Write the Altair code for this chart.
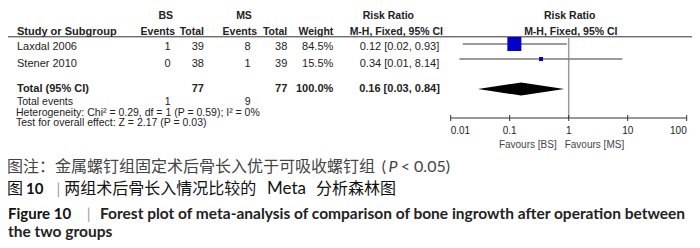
import altair as alt
import pandas as pd

# ---------------- data ----------------
studies = ["Laxdal 2006", "Stener 2010"]
bs_events = [1, 0]
bs_total = [39, 38]
ms_events = [8, 1]
ms_total = [38, 39]
weights = [84.5, 15.5]
rr_est = [0.12, 0.34]
rr_lo = [0.016, 0.014]
rr_hi = [0.93, 8.14]
rr_text = ["0.12 [0.02, 0.93]", "0.34 [0.01, 8.14]"]

total_bs, total_ms = 77, 77
total_events_bs, total_events_ms = 1, 9
total_weight = "100.0%"
pooled_est, pooled_lo, pooled_hi = 0.156, 0.029, 0.84
pooled_text = "0.16 [0.03, 0.84]"

heterogeneity = "Heterogeneity: Chi\u00b2 = 0.29, df = 1 (P = 0.59); I\u00b2 = 0%"
overall = "Test for overall effect: Z = 2.17 (P = 0.03)"

axis_ticks = [0.01, 0.1, 1, 10, 100]
axis_labels = ["0.01", "0.1", "1", "10", "100"]
favours = ["Favours [BS]", "Favours [MS]"]

cap1 = "图注：金属螺钉组固定术后骨长入优于可吸收螺钉组"
cap1_p = ["(", "P", "< 0.05)"]
cap2 = ["图", "10", "|", "两组术后骨长入情况比较的", "Meta", "分析森林图"]
cap3 = ["Figure 10", "|", "Forest plot of meta-analysis of comparison of bone ingrowth after operation between"]
cap4 = "the two groups"

# ---------------- style ----------------
W, H = 684, 232
TF = "Liberation Sans"
CJK = "Noto Sans CJK SC"
EN = "Lato"
TXT = "#222222"
FS = 11

XS = alt.Scale(type="log", domain=[0.01, 100], range=[442.7, 678.7], nice=False)
YF = alt.Scale(domain=[0, 1], range=[36, 51])      # forest rows
YT = alt.Scale(domain=[0, 1], range=[42, 58.5])    # text rows
DIAMOND_HALF = 6.5 / 15.0

df = pd.DataFrame({
    "study": studies, "bs_e": bs_events, "bs_n": bs_total,
    "ms_e": ms_events, "ms_n": ms_total, "w": weights,
    "w_lab": [f"{w:.1f}%" for w in weights],
    "est": rr_est, "lo": rr_lo, "hi": rr_hi, "rr_lab": rr_text,
    "row": [0, 1],
})

layers = []


def label(text, x, y, size=FS, weight="normal", align="left", font=TF,
          color=TXT, style="normal"):
    return alt.Chart(pd.DataFrame({"t": [text]})).mark_text(
        align=align, baseline="alphabetic", font=font, fontSize=size,
        fontWeight=weight, fontStyle=style, color=color,
    ).encode(x=alt.value(x), y=alt.value(y), text="t:N")


# headers
HS = 10.5
layers += [
    label("BS", 157.8, 11, size=HS, weight="bold", align="center"),
    label("MS", 236, 11, size=HS, weight="bold", align="center"),
    label("Risk Ratio", 380.3, 11, size=HS, weight="bold", align="center"),
    label("Risk Ratio", 561.7, 11, size=HS, weight="bold", align="center"),
    label("Study or Subgroup", 9, 27, size=FS, weight="bold"),
    label("Events", 167, 27, size=HS, weight="bold", align="right"),
    label("Total", 196, 27, size=HS, weight="bold", align="right"),
    label("Events", 249, 27, size=HS, weight="bold", align="right"),
    label("Total", 279.3, 27, size=HS, weight="bold", align="right"),
    label("Weight", 325.3, 27, size=HS, weight="bold", align="right"),
    label("M-H, Fixed, 95% CI", 388.3, 27, size=HS, weight="bold", align="center"),
    label("M-H, Fixed, 95% CI", 562.8, 27, size=HS, weight="bold", align="center"),
]

# header underline
layers.append(
    alt.Chart(pd.DataFrame({"a": [0]})).mark_rule(color="#333333", strokeWidth=1).encode(
        x=alt.value(0), x2=alt.value(W), y=alt.value(28.8))
)

# study rows text
base = alt.Chart(df)
yt = alt.Y("row:Q", scale=YT, axis=None)


def col(field, x, align="right"):
    return base.mark_text(align=align, baseline="alphabetic", font=TF, fontSize=FS,
                          color=TXT).encode(x=alt.value(x), y=yt, text=f"{field}:N")


layers += [
    col("study", 9, "left"), col("bs_e", 162.5), col("bs_n", 196),
    col("ms_e", 242.7), col("ms_n", 279.3), col("w_lab", 325.3),
    col("rr_lab", 391.5, "center"),
]

# totals and footnotes
FN = 10.5
layers += [
    label("Total (95% CI)", 9, 84, weight="bold"),
    label(str(total_bs), 196, 84, weight="bold", align="right"),
    label(str(total_ms), 279.3, 84, weight="bold", align="right"),
    label(total_weight, 325.3, 84, weight="bold", align="right"),
    label(pooled_text, 391.5, 84, weight="bold", align="center"),
    label("Total events", 9, 97, size=FN),
    label(str(total_events_bs), 162.5, 97, size=FN, align="right"),
    label(str(total_events_ms), 242.7, 97, size=FN, align="right"),
    label(heterogeneity, 8, 107.5, size=FN),
    label(overall, 8, 118, size=FN),
]

# forest plot: vertical line of no effect
layers.append(
    alt.Chart(pd.DataFrame({"v": [1]})).mark_rule(color="#9a9a9a", strokeWidth=1.5).encode(
        x=alt.X("v:Q", scale=XS, axis=None), y=alt.value(30), y2=alt.value(110))
)

yf = alt.Y("row:Q", scale=YF, axis=None)
layers.append(
    base.mark_rule(color="#7a7a7a", strokeWidth=1.5).encode(
        x=alt.X("lo:Q", scale=XS, axis=None), x2="hi:Q", y=yf)
)
layers.append(
    base.mark_square(color="#0000c8", opacity=1, strokeWidth=0).encode(
        x=alt.X("est:Q", scale=XS, axis=None), y=yf,
        size=alt.Size("w:Q", scale=alt.Scale(domain=[15.5, 84.5], range=[16, 196]), legend=None))
)

# pooled diamond
dia = pd.DataFrame({
    "x": [pooled_lo, pooled_est, pooled_hi],
    "y": [3, 3 - DIAMOND_HALF, 3],
    "y2": [3, 3 + DIAMOND_HALF, 3],
})
layers.append(
    alt.Chart(dia).mark_area(color="black", orient="vertical", opacity=1).encode(
        x=alt.X("x:Q", scale=XS, axis=None),
        y=alt.Y("y:Q", scale=YF, axis=None), y2="y2:Q")
)

# axis
ax = pd.DataFrame({"t": axis_ticks, "lab": axis_labels, "i": range(len(axis_ticks))})
layers.append(
    alt.Chart(pd.DataFrame({"a": [axis_ticks[0]], "b": [axis_ticks[-1]]})).mark_rule(
        color="#333333", strokeWidth=1).encode(
        x=alt.X("a:Q", scale=XS, axis=None), x2="b:Q", y=alt.value(110))
)
layers.append(
    alt.Chart(ax).mark_rule(color="#333333", strokeWidth=1).encode(
        x=alt.X("t:Q", scale=XS, axis=None), y=alt.value(107), y2=alt.value(113))
)
for cond, al in [("datum.i == 0", "left"), (f"datum.i > 0 && datum.i < {len(axis_ticks) - 1}", "center"),
                 (f"datum.i == {len(axis_ticks) - 1}", "right")]:
    layers.append(
        alt.Chart(ax).transform_filter(cond).mark_text(
            align=al, baseline="alphabetic", font=TF, fontSize=10, color=TXT).encode(
            x=alt.X("t:Q", scale=XS, axis=None), y=alt.value(125.5), text="lab:N")
    )
fav = pd.DataFrame({"v": [1], "a": [favours[0]], "b": [favours[1]]})
layers.append(
    alt.Chart(fav).mark_text(align="right", dx=-12, baseline="alphabetic", font=TF,
                             fontSize=10, color="#444444").encode(
        x=alt.X("v:Q", scale=XS, axis=None), y=alt.value(139.5), text="a:N")
)
layers.append(
    alt.Chart(fav).mark_text(align="left", dx=-4, baseline="alphabetic", font=TF,
                             fontSize=10, color="#444444").encode(
        x=alt.X("v:Q", scale=XS, axis=None), y=alt.value(139.5), text="b:N")
)

# captions
C1 = "#444444"
C2 = "#111111"
layers += [
    label(cap1, -1, 163.5, size=16, font=CJK, color=C1),
    label(cap1_p[0], 373.7, 163.5, size=16, font=EN, color=C1),
    label(cap1_p[1], 380.5, 163.5, size=16, font=EN, color=C1, style="italic"),
    label(cap1_p[2], 392.7, 163.5, size=16, font=EN, color=C1),
    label(cap2[0], -1, 186, size=16, font=CJK, color=C2),
    label(cap2[1], 18, 186, size=15, font=EN, weight="bold", color=C2),
    label(cap2[2], 48.5, 186, size=15, font=EN, color="#9a9a9a"),
    label(cap2[3], 56.3, 186, size=16, font=CJK, color=C2),
    label(cap2[4], 259, 186, size=17, font=EN, color=C2),
    label(cap2[5], 308, 186, size=16, font=CJK, color=C2),
    label(cap3[0], 0, 210.7, size=15, font=EN, weight="bold", color=C2),
    label(cap3[1], 78.7, 210.7, size=15, font=EN, color="#9a9a9a"),
    label(cap3[2], 92, 210.7, size=15.5, font=EN, weight="bold", color="#222222"),
    label(cap4, 0, 229.3, size=15.5, font=EN, weight="bold", color="#222222"),
]

chart = alt.layer(*layers).resolve_scale(y="independent").properties(
    width=W, height=H, autosize=alt.AutoSizeParams(type="none"), padding=0
).configure_view(stroke=None)

chart.save("out.html", embed_options={"renderer": "svg", "actions": False})
